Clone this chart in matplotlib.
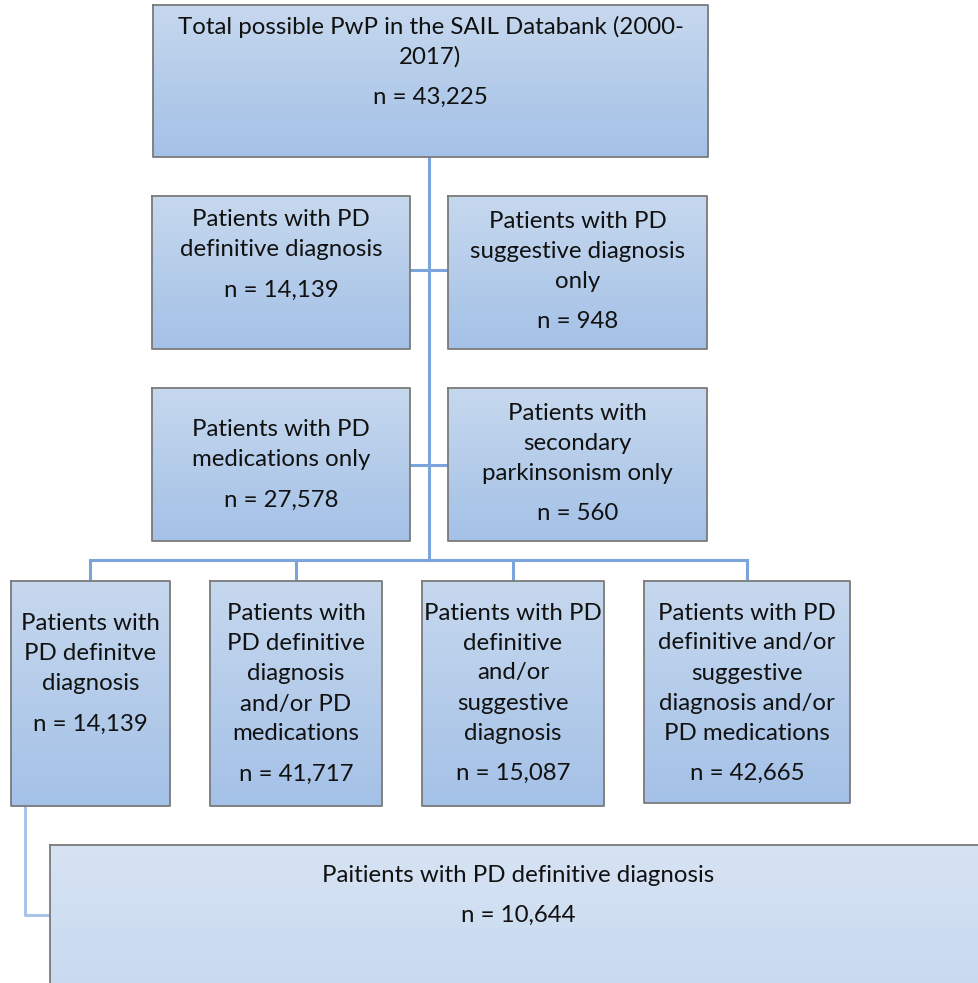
import matplotlib
matplotlib.use("Agg")
import matplotlib.pyplot as plt
import numpy as np
from matplotlib.colors import LinearSegmentedColormap

# ---- data ----
labels = [
    "Total possible PwP in the SAIL Databank (2000-\n2017)",
    "Patients with PD\ndefinitive diagnosis",
    "Patients with PD\nsuggestive diagnosis\nonly",
    "Patients with PD\nmedications only",
    "Patients with\nsecondary\nparkinsonism only",
    "Patients with\nPD definitve\ndiagnosis",
    "Patients with\nPD definitive\ndiagnosis\nand/or PD\nmedications",
    "Patients with PD\ndefinitive\nand/or\nsuggestive\ndiagnosis",
    "Patients with PD\ndefinitive and/or\nsuggestive\ndiagnosis and/or\nPD medications",
    "Paitients with PD definitive diagnosis",
]
counts = ["43,225", "14,139", "948", "27,578", "560", "14,139", "41,717", "15,087", "42,665", "10,644"]

# box geometry (x0, y0, x1, y1) in pixel space, and text top y
boxes = [
    (153, 5, 708, 157),
    (152, 196, 410, 349),
    (448, 196, 707, 349),
    (152, 388, 410, 541),
    (448, 388, 707, 541),
    (11, 581, 170, 806),
    (210, 581, 382, 806),
    (422, 581, 604, 806),
    (644, 581, 850, 803),
    (50, 845, 990, 990),
]
text_top = [27, 220, 222, 430, 414, 624, 614, 613, 613, 875]

W, H = 979, 983
fig = plt.figure(figsize=(W / 100, H / 100), dpi=100)
ax = fig.add_axes([0, 0, 1, 1])
ax.set_xlim(0, W)
ax.set_ylim(H, 0)
ax.axis("off")

FONT = "Lato"
FS = 17.3
LINE = 30
line_color = "#7ba5da"
lw = 2.2

# connectors
ax.plot([429, 429], [157, 560], color=line_color, lw=lw, zorder=1)
for y in (270, 465):
    ax.plot([410, 448], [y, y], color=line_color, lw=lw, zorder=1)
ax.plot([90, 747], [560, 560], color=line_color, lw=lw, zorder=1)
for x in (90, 296, 513, 747):
    ax.plot([x, x], [560, 581], color=line_color, lw=lw, zorder=1)
ax.plot([25, 25, 50], [806, 915, 915], color="#a9c4e8", lw=lw, zorder=1)

cmap = LinearSegmentedColormap.from_list("g", ["#c6d8ee", "#a4c1e7"])
cmap_light = LinearSegmentedColormap.from_list("g2", ["#d6e3f3", "#c8daf0"])
grad = np.linspace(0, 1, 256).reshape(-1, 1)

for i, (b, lab, n, ty) in enumerate(zip(boxes, labels, counts, text_top)):
    x0, y0, x1, y1 = b
    cm = cmap_light if i == len(boxes) - 1 else cmap
    ax.imshow(grad, cmap=cm, aspect="auto", extent=(x0, x1, y1, y0), zorder=2, interpolation="bilinear")
    ax.plot([x0, x1, x1, x0, x0], [y0, y0, y1, y1, y0], color="#7a7a7a", lw=1.3, zorder=3)
    cx = (x0 + x1) / 2 if i != len(boxes) - 1 else 518
    lines = lab.split("\n")
    for k, ln in enumerate(lines):
        ax.text(cx, ty + k * LINE, ln, ha="center", va="center", fontsize=FS,
                family=FONT, color="#111111", zorder=4)
    ny = ty + (len(lines) - 1) * LINE + 40
    if i == 0:
        ny = 97
    ax.text(cx, ny, "n = " + n, ha="center", va="center", fontsize=FS,
            family=FONT, color="#111111", zorder=4)

ax.set_xlim(0, W)
ax.set_ylim(H, 0)
fig.savefig("out.png", dpi=100)
